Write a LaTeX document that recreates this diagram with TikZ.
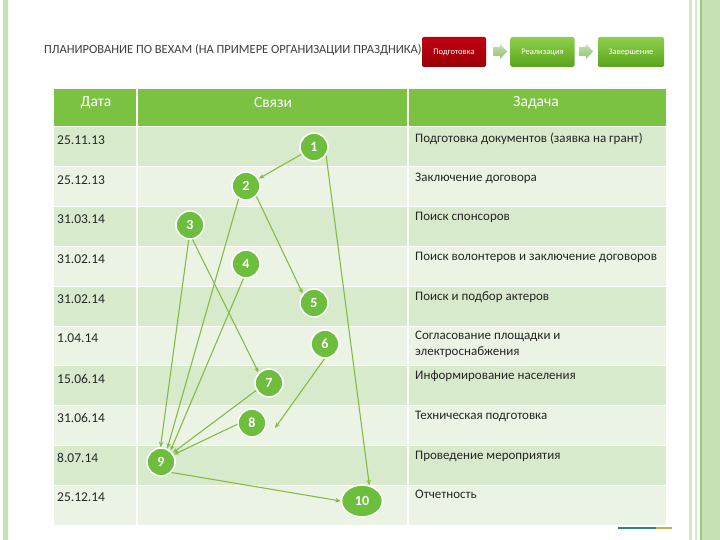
\documentclass[tikz,border=0pt]{standalone}
\usepackage{fontspec}
\setmainfont{Carlito}
\usetikzlibrary{arrows.meta,shapes.geometric}
\definecolor{hdr}{HTML}{7CC242}
\definecolor{rowdark}{HTML}{D7EACB}
\definecolor{rowlight}{HTML}{EBF4E4}
\definecolor{cg}{HTML}{6CBE3C}
\definecolor{lg}{HTML}{86BA48}
\definecolor{txt}{HTML}{262626}
\definecolor{ttl}{HTML}{3F3F3F}
\definecolor{stripe}{HTML}{C6E2B5}
\definecolor{stripe2}{HTML}{D3E9C6}
\definecolor{stripeline}{HTML}{92CC74}
\definecolor{btnred}{HTML}{C00010}
\definecolor{btnredd}{HTML}{9A0008}
\definecolor{btngt}{HTML}{8ECF4C}
\definecolor{btngb}{HTML}{5AA41C}
\definecolor{arrt}{HTML}{C3DFAE}
\definecolor{arrb}{HTML}{94C377}
\begin{document}
\begin{tikzpicture}[x=1pt,y=-1pt,
  circ/.style={circle, fill=cg, draw=white, line width=1.6pt, minimum size=28pt, inner sep=0pt, text=white, font=\fontsize{14}{14}\selectfont\bfseries},
  link/.style={draw=lg, line width=1.1pt, -{Stealth[length=5.5pt,width=4.5pt]}},
  datet/.style={anchor=west, text=txt, inner sep=0pt, font=\fontsize{13.5}{15}\selectfont},
  taskt/.style={anchor=north west, text=txt, inner sep=0pt, align=left, font=\fontsize{13}{16}\selectfont},
  hdrt/.style={text=white, inner sep=0pt, font=\fontsize{15.5}{16}\selectfont},
  btn/.style={rounded corners=2pt, minimum width=64pt, minimum height=30pt, inner sep=0pt, text=white, font=\fontsize{8.5}{9}\selectfont},
  chev/.style={top color=arrt, bottom color=arrb, draw=none}
]
\useasboundingbox (0,0) rectangle (720,540);
\fill[white] (0,0) rectangle (720,540);
% side stripes
\fill[stripe] (3,0) rectangle (8,540);
\draw[color=yellow!10!white, line width=0.8pt] (13,0) -- (13,540);
\fill[stripe2] (689,0) rectangle (691.5,540);
\fill[stripe2] (695,0) rectangle (697,540);
\draw[stripeline, line width=1.4pt] (701,0) -- (701,540);
\fill[stripe] (702,0) rectangle (720,540);
% title
\node[anchor=west, text=ttl, inner sep=0pt, font=\fontsize{12.5}{13}\selectfont] (title) at (44,50) {ПЛАНИРОВАНИЕ ПО ВЕХАМ (НА ПРИМЕРЕ ОРГАНИЗАЦИИ ПРАЗДНИКА)};
% buttons
\node[btn, top color=btnred, bottom color=btnredd] (b1) at (454,52) {Подготовка};
\node[btn, top color=btngt, bottom color=btngb] (b2) at (542.5,52) {Реализация};
\node[btn, top color=btngt, bottom color=btngb, minimum width=66pt] (b3) at (631,52) {Завершение};
\path[chev] (493,47) -- (500,47) -- (500,44) -- (507,51.5) -- (500,59) -- (500,56) -- (493,56) -- cycle;
\path[chev] (579,47) -- (586,47) -- (586,44) -- (593,51.5) -- (586,59) -- (586,56) -- (579,56) -- cycle;
% table
\fill[hdr] (54,89) rectangle (666,127);
\foreach \i in {0,2,4,6,8} \fill[rowdark] (54,127+\i*39.8) rectangle (666,127+\i*39.8+39.8);
\foreach \i in {1,3,5,7,9} \fill[rowlight] (54,127+\i*39.8) rectangle (666,127+\i*39.8+39.8);
\foreach \i in {0,...,9} \draw[white, line width=1pt] (54,127+\i*39.8) -- (666,127+\i*39.8);
\draw[white, line width=1.2pt] (137,89) -- (137,525);
\draw[white, line width=1.2pt] (408,89) -- (408,525);
\draw[color=teal!60!gray, line width=1.5pt] (618,528) -- (656,528);
\draw[color=olive!60!white, line width=1.5pt] (656,528) -- (672,528);
% header
\node[hdrt] (h1) at (96,103) {Дата};
\node[hdrt] (h2) at (273,103) {Связи};
\node[hdrt] (h3) at (536,103) {Задача};
% dates
\node[datet] (d1) at (57,140) {25.11.13};
\node[datet] (d2) at (57,180) {25.12.13};
\node[datet] (d3) at (57,219.5) {31.03.14};
\node[datet] (d4) at (57,259) {31.02.14};
\node[datet] (d5) at (57,299) {31.02.14};
\node[datet] (d6) at (57,338.5) {1.04.14};
\node[datet] (d7) at (57,378.5) {15.06.14};
\node[datet] (d8) at (57,418) {31.06.14};
\node[datet] (d9) at (57,458) {8.07.14};
\node[datet] (d10) at (57,497) {25.12.14};
% tasks
\node[taskt] (t1) at (415,132.5) {Подготовка документов (заявка на грант)};
\node[taskt] (t2) at (415,172.5) {Заключение договора};
\node[taskt] (t3) at (415,212) {Поиск спонсоров};
\node[taskt] (t4) at (415,251.5) {Поиск волонтеров и заключение договоров};
\node[taskt] (t5) at (415,291.5) {Поиск и подбор актеров};
\node[taskt] (t6) at (415,331) {Согласование площадки и\\электроснабжения};
\node[taskt] (t7) at (415,371) {Информирование населения};
\node[taskt] (t8) at (415,410.5) {Техническая подготовка};
\node[taskt] (t9) at (415,450.5) {Проведение мероприятия};
\node[taskt] (t10) at (415,489.5) {Отчетность};
% circles
\node[circ] (n1) at (314,147) {1};
\node[circ] (n2) at (246,186) {2};
\node[circ] (n3) at (190,225) {3};
\node[circ] (n4) at (246,264) {4};
\node[circ] (n5) at (314,303) {5};
\node[circ] (n6) at (325,344) {6};
\node[circ] (n7) at (269,383) {7};
\node[circ] (n8) at (252,423) {8};
\node[circ] (n9) at (161,462) {9};
\node[circ, ellipse, minimum width=41pt, minimum height=32pt] (n10) at (362,501) {10};
\coordinate (e68) at (275,428);
% links
\draw[link] (n1.-150) -- (n2.30);
\draw[link] (n1.-35) -- (n10.65);
\draw[link] (n2.-45) -- (n5.140);
\draw[link] (n2.-120) -- (n9.65);
\draw[link] (n3.-95) -- (n9.92);
\draw[link] (n3.-80) -- (n7.135);
\draw[link] (n4.-100) -- (n9.50);
\draw[link] (n7.-150) -- (n9.38);
\draw[link] (n8.185) -- (n9.30);
\draw[link] (n6.-92) -- (e68);
\draw[link] (n9.-45) -- (n10.180);
\end{tikzpicture}
\end{document}
